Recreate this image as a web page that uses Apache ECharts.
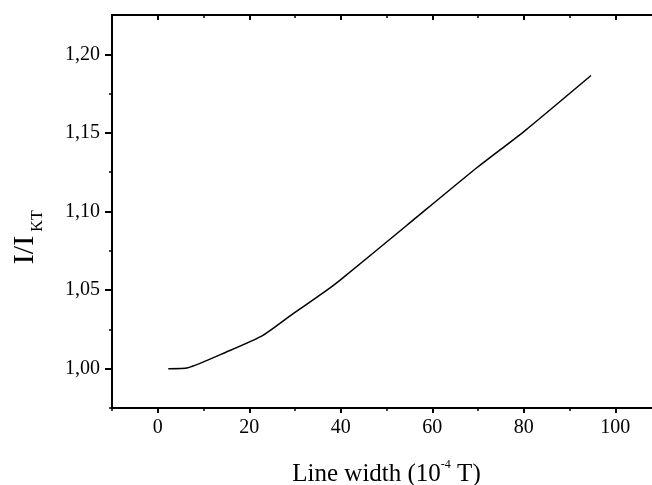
<!DOCTYPE html>
<html>
<head>
<meta charset="utf-8">
<script src="https://cdn.jsdelivr.net/npm/echarts@6/dist/echarts.min.js"></script>
<style>
html,body{margin:0;padding:0;background:#fff;}
#c{width:652px;height:485px;}
</style>
</head>
<body>
<div id="c"></div>
<script>
// Data
const lineWidth = [2.3, 6.6, 15.0, 23.0, 29.6, 36.9, 39.8, 54.4, 69.0, 80.3, 94.7];
const ratio = [1.000, 1.0006, 1.0106, 1.0212, 1.0350, 1.0498, 1.0562, 1.0911, 1.1261, 1.1515, 1.1865];
const xMajorTicks = [0, 20, 40, 60, 80, 100];
const xMinorTicks = [-10, 10, 30, 50, 70, 90];
const yMajorTicks = [1.00, 1.05, 1.10, 1.15, 1.20];
const yMinorTicks = [0.975, 1.025, 1.075, 1.125, 1.175];

const FONT = '"Liberation Serif", "Times New Roman", serif';
const chart = echarts.init(document.getElementById('c'), null, {renderer: 'canvas'});

function xAxisDef(pos, ticks, len, showLine, labels, extra) {
  return Object.assign({
    type: 'value', position: pos, min: -10, max: 110,
    axisLine: {show: showLine, onZero: false, lineStyle: {color: '#000', width: 2}},
    axisTick: {show: true, inside: pos === 'top', length: len, customValues: ticks,
               lineStyle: {color: '#000', width: len > 4 ? 2 : 1.5}},
    axisLabel: labels ? {show: true, customValues: ticks, margin: 10, color: '#000',
               fontFamily: FONT, fontSize: 20} : {show: false},
    splitLine: {show: false}
  }, extra || {});
}
function yAxisDef(ticks, len, showLine, labels) {
  return {
    type: 'value', position: 'left', min: 0.975, max: 1.225,
    axisLine: {show: showLine, onZero: false, lineStyle: {color: '#000', width: 2}},
    axisTick: {show: true, length: len, customValues: ticks,
               lineStyle: {color: '#000', width: len > 4 ? 2 : 1.5}},
    axisLabel: labels ? {show: true, customValues: ticks, margin: 12, color: '#000',
               fontFamily: FONT, fontSize: 20,
               formatter: v => v.toFixed(2).replace('.', ',')} : {show: false},
    splitLine: {show: false}
  };
}

chart.setOption({
  animation: false,
  backgroundColor: '#fff',
  grid: {left: 112, right: -9, top: 15, bottom: 77, containLabel: false, outerBoundsMode: 'none'},
  xAxis: [
    xAxisDef('bottom', xMajorTicks, 5, true, true, {
      name: 'Line width (10{sup|-4} T)',
      nameLocation: 'middle', nameGap: 51,
      nameTextStyle: {color: '#000', fontFamily: FONT, fontSize: 25, lineHeight: 30,
        rich: {sup: {fontFamily: FONT, fontSize: 12, lineHeight: 16, verticalAlign: 'top', color: '#000'}}}
    }),
    xAxisDef('bottom', xMinorTicks, 3, false, false),
    xAxisDef('top', xMajorTicks, 5, true, false),
    xAxisDef('top', xMinorTicks, 3, false, false)
  ],
  yAxis: [
    yAxisDef(yMajorTicks, 7, true, true),
    yAxisDef(yMinorTicks, 3, false, false)
  ],
  series: [{
    type: 'line',
    xAxisIndex: 0, yAxisIndex: 0,
    data: lineWidth.map((x, i) => [x, ratio[i]]),
    showSymbol: false, symbol: 'none',
    lineStyle: {color: '#000', width: 1.5},
    smooth: 0.2
  }],
  graphic: [{
    type: 'group', x: 35, y: 250, rotation: Math.PI / 2,
    children: [
      {type: 'text', x: 0, y: -10, style: {text: 'I/I', fill: '#000', font: '30px ' + FONT, align: 'center', verticalAlign: 'middle'}},
      {type: 'text', x: 29, y: 2.6, style: {text: 'KT', fill: '#000', font: '16px ' + FONT, align: 'center', verticalAlign: 'middle'}}
    ]
  }]
});
</script>
</body>
</html>
